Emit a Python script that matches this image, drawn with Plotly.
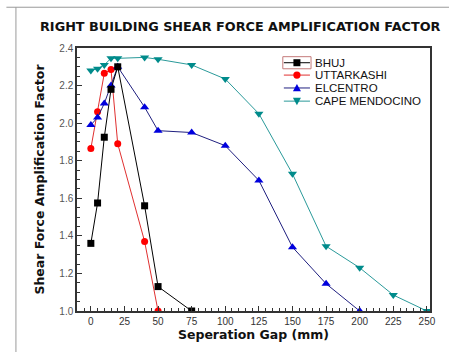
import plotly.graph_objects as go

# Separation gap (mm) and shear force amplification factor per earthquake record
bhuj_gap = [0, 5, 10, 15, 20, 40, 50, 75]
bhuj_saf = [1.36, 1.575, 1.925, 2.18, 2.30, 1.56, 1.13, 1.0]

uttarkashi_gap = [0, 5, 10, 15, 20, 40, 50]
uttarkashi_saf = [1.865, 2.06, 2.265, 2.285, 1.89, 1.37, 1.0]

elcentro_gap = [0, 5, 10, 15, 20, 40, 50, 75, 100, 125, 150, 175, 200]
elcentro_saf = [1.99, 2.03, 2.105, 2.20, 2.30, 2.085, 1.96, 1.95, 1.88, 1.695, 1.34, 1.145, 1.0]

cape_gap = [0, 5, 10, 15, 20, 40, 50, 75, 100, 125, 150, 175, 200, 225, 250]
cape_saf = [2.28, 2.29, 2.31, 2.345, 2.345, 2.35, 2.34, 2.31, 2.235, 2.05, 1.73, 1.345, 1.23, 1.085, 1.0]

x_ticks = [0, 25, 50, 75, 100, 125, 150, 175, 200, 225, 250]
y_ticks = [1.0, 1.2, 1.4, 1.6, 1.8, 2.0, 2.2, 2.4]

TITLE_FONT = "DejaVu Sans, sans-serif"
BODY_FONT = "Liberation Sans, Arial, sans-serif"

# x, y, marker colour, line colour, symbol, marker size
series = {
    "BHUJ": (bhuj_gap, bhuj_saf, "#000000", "#000000", "square", 7),
    "UTTARKASHI": (uttarkashi_gap, uttarkashi_saf, "#ff0000", "#e03030", "circle", 7),
    "ELCENTRO": (elcentro_gap, elcentro_saf, "#0000dd", "#202080", "triangle-up", 8),
    "CAPE MENDOCINO": (cape_gap, cape_saf, "#008b8b", "#2a9a9a", "triangle-down", 8),
}
legend_order = ["BHUJ", "UTTARKASHI", "ELCENTRO", "CAPE MENDOCINO"]
draw_order = ["UTTARKASHI", "ELCENTRO", "CAPE MENDOCINO", "BHUJ"]

fig = go.Figure()
for name in draw_order:
    xs, ys, mcol, lcol, sym, size = series[name]
    fig.add_trace(go.Scatter(
        x=xs, y=ys, name=name, mode="lines+markers",
        line=dict(color=lcol, width=1),
        marker=dict(color=mcol, symbol=sym, size=size, line=dict(width=0)),
        showlegend=False,
    ))

# Compact hand-built legend (paper coordinates, pixel-sized markers)
marker_paths = {
    "square": "M-3.5,-3.5 L3.5,-3.5 L3.5,3.5 L-3.5,3.5 Z",
    "triangle-up": "M-4,-3.3 L4,-3.3 L0,4 Z",
    "triangle-down": "M-4,3.3 L4,3.3 L0,-4 Z",
}
leg_x0, leg_x1, leg_xm, leg_tx = 0.586, 0.660, 0.623, 0.668
leg_rows = [0.944, 0.897, 0.848, 0.798]
for name, ly in zip(legend_order, leg_rows):
    xs, ys, mcol, lcol, sym, size = series[name]
    fig.add_shape(type="line", xref="paper", yref="paper",
                  x0=leg_x0, x1=leg_x1, y0=ly, y1=ly,
                  line=dict(color=lcol, width=1))
    if sym == "circle":
        fig.add_shape(type="circle", xref="paper", yref="paper",
                      xsizemode="pixel", ysizemode="pixel",
                      xanchor=leg_xm, yanchor=ly,
                      x0=-3.6, x1=3.6, y0=-3.6, y1=3.6,
                      fillcolor=mcol, line=dict(width=0))
    else:
        fig.add_shape(type="path", xref="paper", yref="paper",
                      xsizemode="pixel", ysizemode="pixel",
                      xanchor=leg_xm, yanchor=ly,
                      path=marker_paths[sym],
                      fillcolor=mcol, line=dict(width=0))
    fig.add_annotation(text=name, xref="paper", yref="paper",
                       x=leg_tx, y=ly, xanchor="left", yanchor="middle",
                       showarrow=False,
                       font=dict(family=BODY_FONT, size=11.5, color="#111111"))

# thin highlight box around the first legend sample
fig.add_shape(type="rect", xref="paper", yref="paper",
              x0=0.583, x1=0.663, y0=0.921, y1=0.967,
              line=dict(color="#c47a7a", width=1))

fig.update_layout(
    width=449, height=352,
    margin=dict(l=77, r=19, t=48, b=41),
    paper_bgcolor="white", plot_bgcolor="white",
    font=dict(family=BODY_FONT, color="#333333", size=10),
    title=dict(
        text="<b>RIGHT BUILDING SHEAR FORCE AMPLIFICATION FACTOR</b>",
        x=0.535, xanchor="center", y=0.925, yanchor="middle",
        font=dict(family=TITLE_FONT, size=12.8, color="#111111"),
    ),
    showlegend=False,
)

fig.update_xaxes(
    range=[-10.3, 252.3], tickvals=x_ticks,
    showgrid=False, zeroline=False,
    showline=True, linecolor="#333333", linewidth=1.5, mirror=True,
    ticks="inside", ticklen=5, tickcolor="#333333",
    minor=dict(dtick=5, tick0=0, ticks="inside", ticklen=3, tickcolor="#333333"),
    tickfont=dict(size=10, color="#333333"),
    title=dict(text="<b>Seperation Gap (mm)</b>",
               font=dict(family=TITLE_FONT, size=12.5, color="#111111"), standoff=3),
)
fig.update_yaxes(
    range=[1.0, 2.4], tickvals=y_ticks, tickformat=".1f",
    showgrid=False, zeroline=False,
    showline=True, linecolor="#333333", linewidth=1.5, mirror=True,
    ticks="inside", ticklen=5, tickcolor="#333333",
    minor=dict(dtick=0.05, tick0=1.0, ticks="inside", ticklen=3, tickcolor="#333333"),
    tickfont=dict(size=10, color="#555555"),
    title=dict(text="<b>Shear Force Amplification Factor</b>",
               font=dict(family=TITLE_FONT, size=12.5, color="#111111"), standoff=12),
)

# Light frame around the whole graphic
fig.add_shape(type="line", xref="paper", yref="paper",
              x0=-0.2, x1=1.06, y0=1.155, y1=1.155,
              line=dict(color="#9a9a9a", width=1))
fig.add_shape(type="line", xref="paper", yref="paper",
              x0=-0.173, x1=-0.173, y0=1.155, y1=-0.2,
              line=dict(color="#9a9a9a", width=1))

fig.write_html("out.html")
